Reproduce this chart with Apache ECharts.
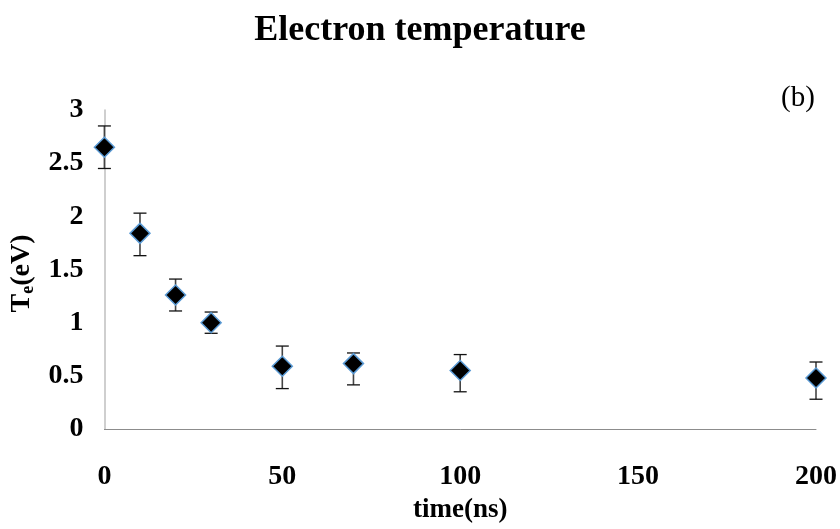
<!DOCTYPE html>
<html>
<head>
<meta charset="utf-8">
<script src="https://cdn.jsdelivr.net/npm/echarts@6/dist/echarts.min.js"></script>
<style>
  html, body { margin: 0; padding: 0; background: #fff; }
  #chart { width: 840px; height: 529px; }
</style>
</head>
<body>
<div id="chart"></div>
<script>
// Electron temperature vs. time, with asymmetric error bars
const timeNs = [0, 10, 20, 30, 50, 70, 100, 200];
const teEv = [2.65, 1.84, 1.26, 1.0, 0.59, 0.615, 0.55, 0.48];
const errUp = [0.2, 0.19, 0.15, 0.1, 0.19, 0.1, 0.15, 0.15];
const errDown = [0.2, 0.21, 0.15, 0.1, 0.21, 0.2, 0.2, 0.2];
const xTicks = [0, 50, 100, 150, 200];
const yTicks = [0, 0.5, 1, 1.5, 2, 2.5, 3];

const serif = '"Liberation Serif", "Times New Roman", serif';

const points = timeNs.map((t, i) => [t, teEv[i]]);
const bars = timeNs.map((t, i) => [t, teEv[i] - errDown[i], teEv[i] + errUp[i]]);

const chart = echarts.init(document.getElementById('chart'), null, { renderer: 'canvas' });

chart.setOption({
  animation: false,
  backgroundColor: '#ffffff',
  title: [
    {
      text: 'Electron temperature',
      left: 'center',
      top: 8,
      textStyle: { fontFamily: serif, fontWeight: 'bold', fontSize: 36, color: '#000' }
    },
    {
      text: '(b)',
      left: 776,
      top: 79,
      textStyle: { fontFamily: serif, fontWeight: 'normal', fontSize: 29, color: '#000' }
    }
  ],
  grid: { left: 103, right: 23, top: 110, bottom: 88.5, containLabel: false },
  xAxis: {
    type: 'value',
    min: xTicks[0],
    max: xTicks[xTicks.length - 1],
    interval: xTicks[1] - xTicks[0],
    name: 'time(ns)',
    nameLocation: 'middle',
    nameGap: 68,
    nameTextStyle: { fontFamily: serif, fontWeight: 'bold', fontSize: 27, color: '#000' },
    axisLine: { show: true, lineStyle: { color: '#8c8c8c', width: 1 } },
    axisTick: { show: false },
    splitLine: { show: false },
    axisLabel: {
      margin: 34,
      fontFamily: serif, fontWeight: 'bold', fontSize: 28, color: '#000'
    }
  },
  yAxis: {
    type: 'value',
    min: yTicks[0],
    max: yTicks[yTicks.length - 1],
    interval: yTicks[1] - yTicks[0],
    name: '{a|T}{s|e}{a|(eV)}',
    nameLocation: 'middle',
    nameRotate: 90,
    nameGap: 62,
    nameTextStyle: {
      padding: [0, 8, 0, 0],
      rich: {
        a: { fontFamily: serif, fontWeight: 'bold', fontSize: 28, color: '#000' },
        s: { fontFamily: serif, fontWeight: 'bold', fontSize: 18, color: '#000', verticalAlign: 'bottom', padding: [13, 0, 0, 0] }
      }
    },
    axisLine: { show: true, lineStyle: { color: '#bfbfbf', width: 1.5 } },
    axisTick: { show: false },
    splitLine: { show: false },
    axisLabel: {
      margin: 21,
      fontFamily: serif, fontWeight: 'bold', fontSize: 28, color: '#000',
      formatter: v => String(v)
    }
  },
  series: [
    {
      type: 'custom',
      data: bars,
      z: 2,
      renderItem: function (params, api) {
        const x = api.value(0);
        const lo = api.coord([x, api.value(1)]);
        const hi = api.coord([x, api.value(2)]);
        const half = 6.5;
        const style = { stroke: '#111', lineWidth: 1.3 };
        return {
          type: 'group',
          children: [
            { type: 'line', shape: { x1: hi[0], y1: hi[1], x2: lo[0], y2: lo[1] }, style: { stroke: '#444', lineWidth: 1.6 } },
            { type: 'line', shape: { x1: hi[0] - half, y1: hi[1], x2: hi[0] + half, y2: hi[1] }, style: style },
            { type: 'line', shape: { x1: lo[0] - half, y1: lo[1], x2: lo[0] + half, y2: lo[1] }, style: style }
          ]
        };
      }
    },
    {
      type: 'scatter',
      data: points,
      z: 3,
      symbol: 'diamond',
      symbolSize: 20,
      itemStyle: { color: '#000', borderColor: '#5b9bd5', borderWidth: 1.5, opacity: 1 }
    }
  ]
});
</script>
</body>
</html>
